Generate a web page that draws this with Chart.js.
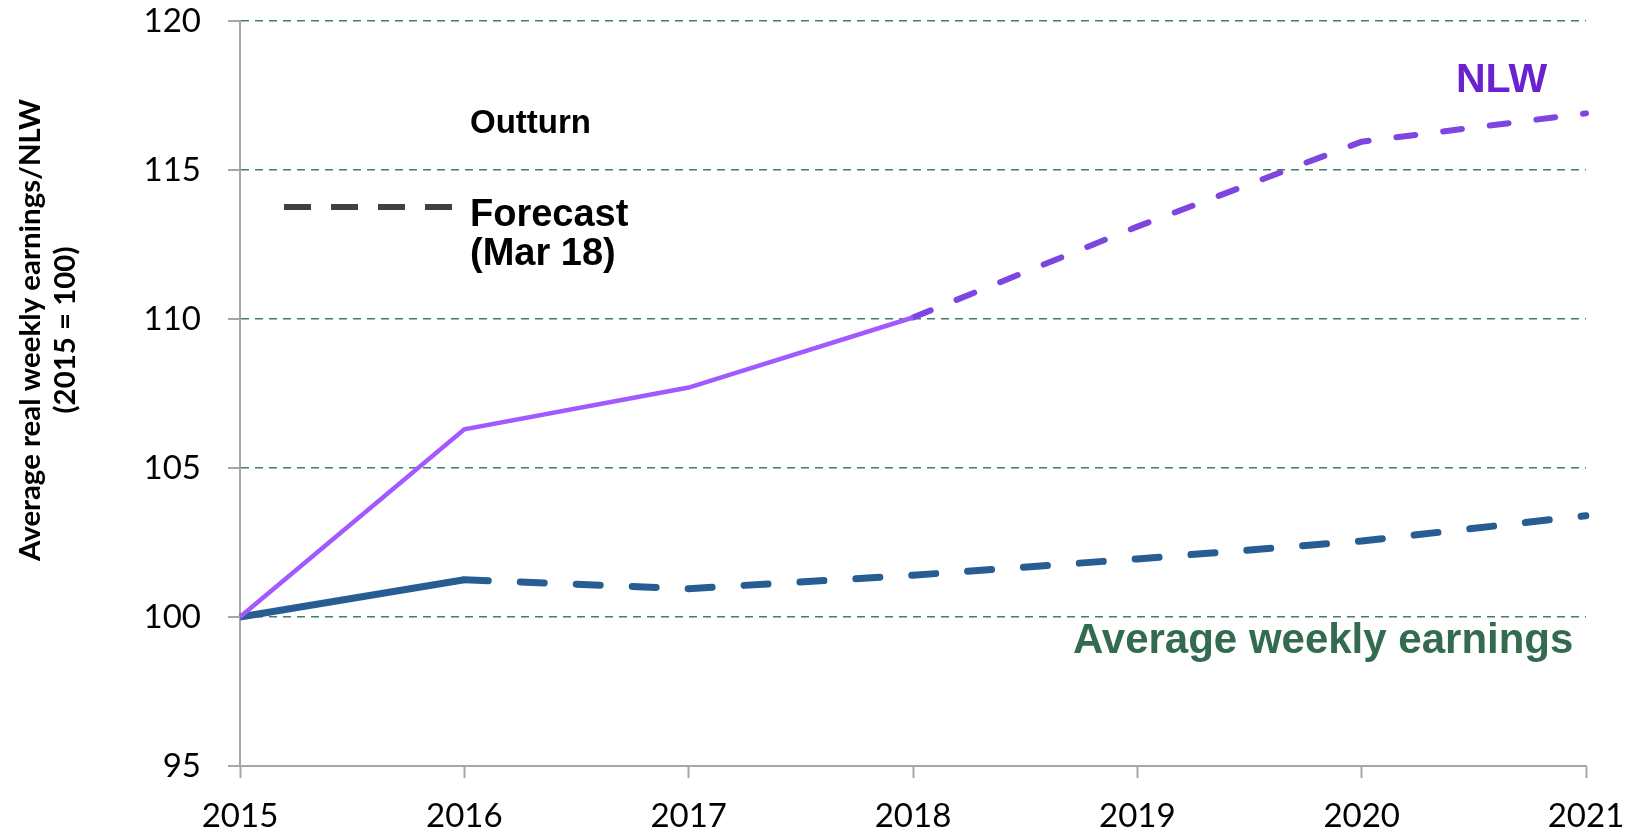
<!DOCTYPE html>
<html>
<head>
<meta charset="utf-8">
<style>
  html, body { margin: 0; padding: 0; background: #fff; }
  #wrap { width: 1639px; height: 837px; position: relative; }
</style>
</head>
<body>
<div id="wrap"><canvas id="earningsChart"></canvas></div>

<script src="https://cdn.jsdelivr.net/npm/chart.js"></script>
<script>
// years on the x axis
const years = ["2015", "2016", "2017", "2018", "2019", "2020", "2021"];
// National Living Wage, index 2015 = 100
const nlwOutturn  = [100, 106.3, 107.7, 110.05, null, null, null];
const nlwForecast = [null, null, null, 110.05, 113.1, 115.95, 116.9];
// average weekly earnings, index 2015 = 100
const aweOutturn  = [100, 101.25, null, null, null, null, null];
const aweForecast = [null, 101.25, 100.95, 101.4, 101.95, 102.55, 103.4];
const yTicks = [95, 100, 105, 110, 115, 120];

const AXIS_GREY = "#a6a6a6";

// tick marks on the y axis, grid lines are dashed so draw these separately
const yTickMarks = {
    id: "yTickMarks",
    afterDraw(chart) {
        const ctx = chart.ctx;
        const y = chart.scales.y;
        const left = chart.chartArea.left;
        ctx.save();
        ctx.strokeStyle = AXIS_GREY;
        ctx.lineWidth = 2;
        yTicks.forEach(v => {
            const py = Math.round(y.getPixelForValue(v));
            ctx.beginPath();
            ctx.moveTo(left - 12, py);
            ctx.lineTo(left, py);
            ctx.stroke();
        });
        ctx.restore();
    }
};

// draw text so that it spans a given length
function fitText(ctx, text, x, y, family, len) {
    ctx.font = "bold 20px " + family;
    const w = ctx.measureText(text).width;
    const size = 20 * len / w;
    ctx.font = "bold " + size.toFixed(2) + "px " + family;
    ctx.fillText(text, x, y);
}

// text labels and the forecast key
const notes = {
    id: "notes",
    afterDraw(chart) {
        const ctx = chart.ctx;
        ctx.save();

        // axis title
        ctx.save();
        ctx.translate(0, 330);
        ctx.rotate(-Math.PI / 2);
        ctx.fillStyle = "#000";
        ctx.textAlign = "center";
        ctx.textBaseline = "middle";
        fitText(ctx, "Average real weekly earnings/NLW", 0, 30, "Lato", 462);
        fitText(ctx, "(2015 = 100)", 0, 66, "Lato", 167);
        ctx.restore();

        ctx.textAlign = "left";
        ctx.textBaseline = "alphabetic";
        ctx.fillStyle = "#000";
        ctx.font = "bold 33px 'Liberation Sans', Arial";
        ctx.fillText("Outturn", 470, 133);
        ctx.font = "bold 38px 'Liberation Sans', Arial";
        ctx.fillText("Forecast", 470, 226);
        ctx.fillText("(Mar 18)", 470, 265);

        ctx.strokeStyle = "#404040";
        ctx.lineWidth = 6;
        ctx.setLineDash([27, 20]);
        ctx.beginPath();
        ctx.moveTo(284, 207);
        ctx.lineTo(452, 207);
        ctx.stroke();
        ctx.setLineDash([]);

        ctx.fillStyle = "#6a22d0";
        ctx.font = "bold 41px 'Liberation Sans', Arial";
        ctx.fillText("NLW", 1456, 92);

        ctx.fillStyle = "#336b50";
        ctx.font = "bold 42px 'Liberation Sans', Arial";
        ctx.fillText("Average weekly earnings", 1073, 653);

        ctx.restore();
    }
};

new Chart(document.getElementById("earningsChart"), {
    type: "line",
    data: {
        labels: years,
        datasets: [
            { label: "NLW outturn", data: nlwOutturn, borderColor: "#a259ff", borderWidth: 4.5, order: 1 },
            { label: "NLW forecast", data: nlwForecast, borderColor: "#7f45e0", borderWidth: 6,
              borderDash: [19, 28], borderCapStyle: "round", order: 2 },
            { label: "AWE outturn", data: aweOutturn, borderColor: "#275d93", borderWidth: 7, order: 3 },
            { label: "AWE forecast", data: aweForecast, borderColor: "#275d93", borderWidth: 7,
              borderDash: [24, 32], borderCapStyle: "round", order: 4 }
        ]
    },
    options: {
        responsive: true,
        maintainAspectRatio: false,
        animation: false,
        spanGaps: false,
        elements: { point: { radius: 0, hoverRadius: 0 }, line: { tension: 0, fill: false } },
        layout: { padding: { top: 21, right: 53, left: 0, bottom: 0 } },
        plugins: { legend: { display: false }, tooltip: { enabled: false } },
        scales: {
            x: {
                offset: false,
                grid: { drawOnChartArea: false, drawTicks: true, tickLength: 12, tickColor: AXIS_GREY, tickWidth: 2 },
                border: { color: AXIS_GREY, width: 2 },
                ticks: { color: "#000", padding: 19, maxRotation: 0, font: { family: "Lato", size: 33 } },
                afterFit(scale) {
                    scale.height = 71;
                    scale.paddingLeft = 0;
                    scale.paddingRight = 0;
                }
            },
            y: {
                min: 95,
                max: 120,
                afterBuildTicks(scale) { scale.ticks = yTicks.map(v => ({ value: v })); },
                grid: {
                    drawTicks: false,
                    lineWidth: 1.5,
                    color: ctx => (ctx.tick && ctx.tick.value === 95) ? "rgba(0,0,0,0)" : "#3f7f68"
                },
                border: { color: AXIS_GREY, width: 2, dash: [8, 6] },
                ticks: { color: "#000", padding: 39, font: { family: "Lato", size: 33 } },
                afterFit(scale) {
                    scale.width = 240;
                    scale.paddingTop = 0;
                    scale.paddingBottom = 0;
                }
            }
        }
    },
    plugins: [yTickMarks, notes]
});
</script>
</body>
</html>
